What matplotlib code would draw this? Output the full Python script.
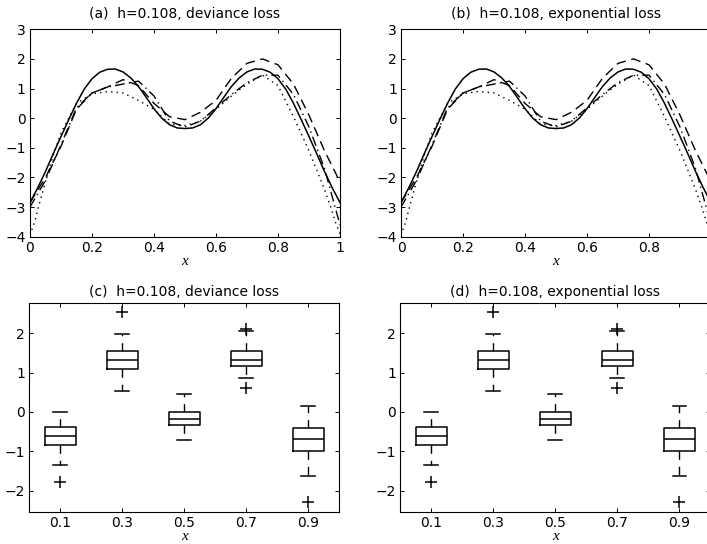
import matplotlib
matplotlib.use("Agg")
import matplotlib.pyplot as plt

# top panels: true curve (solid) and three estimates
x_true = [0.0, 0.025, 0.05, 0.075, 0.1, 0.125, 0.15, 0.175, 0.2, 0.225, 0.25,
          0.275, 0.3, 0.325, 0.35, 0.375, 0.4, 0.425, 0.45, 0.475, 0.5,
          0.525, 0.55, 0.575, 0.6, 0.625, 0.65, 0.675, 0.7, 0.725, 0.75,
          0.775, 0.8, 0.825, 0.85, 0.875, 0.9, 0.925, 0.95, 0.975, 1.0]
y_true = [-2.85, -2.35, -1.8, -1.2, -0.62, -0.05, 0.5, 0.98, 1.33, 1.55, 1.65,
          1.66, 1.56, 1.36, 1.07, 0.7, 0.32, 0.0, -0.22, -0.33, -0.35,
          -0.33, -0.22, 0.0, 0.32, 0.7, 1.07, 1.36, 1.56, 1.66, 1.65,
          1.55, 1.33, 0.98, 0.5, -0.05, -0.62, -1.2, -1.8, -2.35, -2.85]

x_est = [0.0, 0.05, 0.1, 0.15, 0.2, 0.25, 0.3, 0.35, 0.4, 0.45, 0.5,
         0.55, 0.6, 0.65, 0.7, 0.75, 0.8, 0.85, 0.9, 0.95, 1.0]
y_dash = [-2.85, -2.0, -0.95, 0.3, 0.85, 1.05, 1.3, 1.1, 0.5, 0.05, -0.05,
          0.2, 0.6, 1.35, 1.85, 2.0, 1.8, 1.15, 0.1, -1.1, -2.15]
y_dashdot = [-3.0, -2.1, -0.9, 0.35, 0.85, 1.05, 1.15, 1.25, 0.75, -0.1, -0.3,
             -0.1, 0.35, 0.8, 1.2, 1.45, 1.45, 0.8, -0.3, -1.7, -3.6]

x_dot = [0.0, 0.015, 0.03, 0.05, 0.075, 0.1, 0.15, 0.2, 0.25, 0.3, 0.35, 0.4,
         0.45, 0.5, 0.55, 0.6, 0.65, 0.7, 0.75, 0.8, 0.85, 0.9, 0.95, 0.97,
         0.985, 1.0]
y_dot = [-3.95, -3.5, -2.9, -2.15, -1.25, -0.5, 0.5, 0.82, 0.9, 0.85, 0.6, 0.3,
         -0.2, -0.25, -0.1, 0.3, 0.75, 1.15, 1.45, 1.1, 0.05, -1.1, -2.4, -3.0,
         -3.5, -3.9]

# bottom panels: box summaries at five x locations
box_labels = ["0.1", "0.3", "0.5", "0.7", "0.9"]
q1 = [-0.85, 1.10, -0.33, 1.18, -0.98]
med = [-0.62, 1.31, -0.19, 1.33, -0.68]
q3 = [-0.37, 1.56, -0.01, 1.54, -0.41]
whislo = [-1.35, 0.54, -0.71, 0.86, -1.63]
whishi = [0.0, 1.98, 0.45, 2.07, 0.14]
fliers = [[-1.77], [2.53], [], [0.61, 2.10], [-2.30]]

top_titles = ["(a)  h=0.108, deviance loss", "(b)  h=0.108, exponential loss"]
bottom_titles = ["(c)  h=0.108, deviance loss", "(d)  h=0.108, exponential loss"]
# the right-hand panel is clipped by the figure edge, so its last label is not shown
top_xlabels = [["0", "0.2", "0.4", "0.6", "0.8", "1"],
               ["0", "0.2", "0.4", "0.6", "0.8", ""]]

plt.rcParams["font.family"] = ["DejaVu Sans"]
plt.rcParams["font.size"] = 10

fig = plt.figure(figsize=(7.07, 5.44), dpi=100)
lefts = [0.0424, 0.5672]
w = 0.4385


def style(ax):
    ax.tick_params(direction="in", top=True, right=True, length=3, width=0.7,
                   labelsize=10, pad=3)
    for s in ax.spines.values():
        s.set_linewidth(0.8)


def xlab(ax, pad):
    ax.set_xlabel("x", fontfamily="Liberation Serif", style="italic",
                  fontsize=11, labelpad=pad)


for i in range(2):
    ax = fig.add_axes([lefts[i], 0.5649, w, 0.3813])
    ax.plot(x_true, y_true, color="black", lw=1.1, ls="-")
    ax.plot(x_est, y_dash, color="black", lw=1.0, ls=(0, (7, 4)))
    ax.plot(x_est, y_dashdot, color="black", lw=1.0, ls=(0, (7, 3, 1, 3)))
    ax.plot(x_dot, y_dot, color="black", lw=1.0, ls=(0, (1, 3)))
    ax.set_xlim(0, 1)
    ax.set_ylim(-4, 3)
    ax.set_xticks([0, 0.2, 0.4, 0.6, 0.8, 1.0], top_xlabels[i])
    ax.set_yticks(range(-4, 4))
    ax.set_title(top_titles[i], fontsize=10, pad=8)
    style(ax)
    xlab(ax, 0)

for i in range(2):
    ax = fig.add_axes([lefts[i] - 0.001, 0.0583, w, 0.3847])
    stats = []
    for k in range(len(box_labels)):
        stats.append({"med": med[k], "q1": q1[k], "q3": q3[k],
                      "whislo": whislo[k], "whishi": whishi[k],
                      "fliers": fliers[k]})
    ax.bxp(stats, positions=range(1, 6), widths=0.5, capwidths=0.22,
           boxprops=dict(color="black", lw=1.1),
           medianprops=dict(color="black", lw=1.1),
           whiskerprops=dict(color="black", lw=1.0, ls=(0, (6, 5))),
           capprops=dict(color="black", lw=1.1),
           flierprops=dict(marker="+", markersize=8, markeredgecolor="black",
                           markeredgewidth=1.1))
    ax.set_xlim(0.5, 5.5)
    ax.set_ylim(-2.55, 2.77)
    ax.set_xticks(range(1, 6), box_labels)
    ax.set_yticks([-2, -1, 0, 1, 2])
    ax.set_title(bottom_titles[i], fontsize=10, pad=5)
    style(ax)
    xlab(ax, 0)

fig.savefig("out.png", dpi=100)
